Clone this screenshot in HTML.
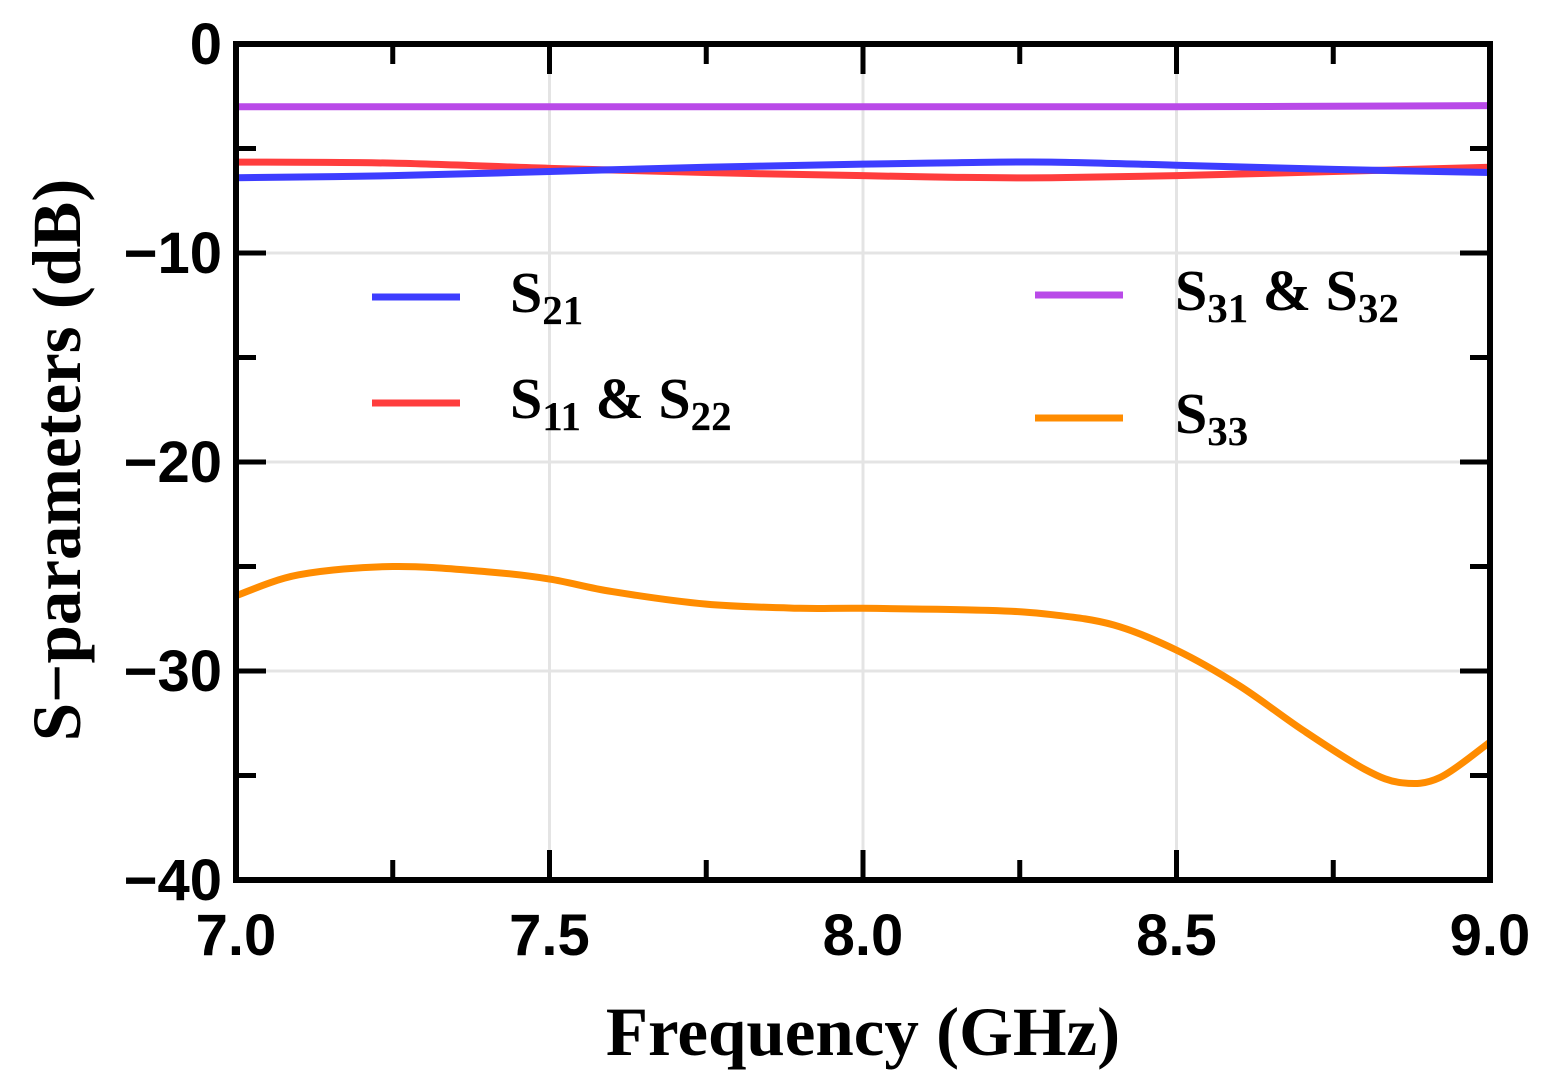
<!DOCTYPE html>
<html><head><meta charset="utf-8">
<style>
html,body{margin:0;padding:0;background:#fff;}
svg{display:block;}
.tick{font-family:"Liberation Sans",sans-serif;font-weight:bold;font-size:58px;fill:#000;}
.title{font-family:"Liberation Serif",serif;font-weight:bold;font-size:69px;fill:#000;}
.leg{font-family:"Liberation Serif",serif;font-weight:bold;font-size:58px;fill:#000;}
</style></head>
<body>
<svg id="chart" width="1544" height="1090" viewBox="0 0 1544 1090">
<g id="grid"></g>
<g id="series"></g>
<g id="ticks"></g>
<rect x="236" y="44" width="1254" height="836" fill="none" stroke="#000" stroke-width="6"/>
<g id="labels"></g>
<text class="title" x="863" y="1055" text-anchor="middle">Frequency (GHz)</text>
<text class="title" transform="translate(80,460) rotate(-90)" text-anchor="middle">S−parameters (dB)</text>
<g>
 <g><line x1="372" y1="297" x2="460" y2="297" stroke="#3d3dff" stroke-width="7"/><text class="leg" x="510" y="312">S<tspan font-size="41" dy="12">21</tspan></text></g>
 <g><line x1="372" y1="403" x2="460" y2="403" stroke="#ff3d3d" stroke-width="7"/><text class="leg" x="510" y="418">S<tspan font-size="41" dy="12">11</tspan><tspan dy="-12"> &amp; S</tspan><tspan font-size="41" dy="12">22</tspan></text></g>
 <g><line x1="1035" y1="295" x2="1123" y2="295" stroke="#b94ae8" stroke-width="7"/><text class="leg" x="1175" y="310">S<tspan font-size="41" dy="12">31</tspan><tspan dy="-12"> &amp; S</tspan><tspan font-size="41" dy="12">32</tspan></text></g>
 <g><line x1="1035" y1="418" x2="1123" y2="418" stroke="#ff8c00" stroke-width="7"/><text class="leg" x="1175" y="433">S<tspan font-size="41" dy="12">33</tspan></text></g>
</g>
</svg>
<script>
const xTicks=[7.0,7.5,8.0,8.5,9.0];
const xTickLabels=["7.0","7.5","8.0","8.5","9.0"];
const yTicks=[0,-10,-20,-30,-40];
const yTickLabels=["0","−10","−20","−30","−40"];
const s21X=[7.0,7.25,7.5,7.75,8.0,8.15,8.3,8.5,8.75,9.0];
const s21Y=[-6.4,-6.3,-6.1,-5.9,-5.75,-5.68,-5.65,-5.8,-6.0,-6.15];
const s11X=[7.0,7.25,7.5,7.75,8.0,8.15,8.3,8.5,8.75,9.0];
const s11Y=[-5.65,-5.7,-5.95,-6.15,-6.3,-6.38,-6.4,-6.3,-6.1,-5.9];
const s31X=[7.0,7.5,8.0,8.5,9.0];
const s31Y=[-3.0,-3.0,-3.0,-3.0,-2.95];
const s33X=[7.0,7.1,7.25,7.4,7.5,7.6,7.75,7.9,8.0,8.2,8.3,8.4,8.5,8.6,8.7,8.8,8.86,8.92,9.0];
const s33Y=[-26.4,-25.4,-25.0,-25.25,-25.6,-26.2,-26.8,-27.0,-27.0,-27.1,-27.3,-27.8,-29.0,-30.7,-32.8,-34.7,-35.35,-35.1,-33.4];
const X0=236,X1=1490,Y0=44,Y1=880;
const sx=v=>X0+(v-7)/2*(X1-X0);
const sy=v=>Y0+(0-v)/40*(Y1-Y0);
const NS="http://www.w3.org/2000/svg";
function mk(tag,parent,attrs){const e=document.createElementNS(NS,tag);for(const k in attrs)e.setAttribute(k,attrs[k]);parent.appendChild(e);return e;}
const grid=document.getElementById('grid'),ticks=document.getElementById('ticks'),labels=document.getElementById('labels'),series=document.getElementById('series');
xTicks.forEach((v,i)=>{
 const g=mk('line',grid,{x1:sx(v),x2:sx(v),y1:Y0,y2:Y1,stroke:'#e4e4e4','stroke-width':3});
 
 
 const t=mk('text',labels,{x:sx(v),y:955,'text-anchor':'middle',class:'tick'});t.textContent=xTickLabels[i];
 
 
});
yTicks.forEach((v,i)=>{
 const g=mk('line',grid,{x1:X0,x2:X1,y1:sy(v),y2:sy(v),stroke:'#e4e4e4','stroke-width':3});
 
 
 const t=mk('text',labels,{x:222,y:sy(v)+20,'text-anchor':'end',class:'tick'});t.textContent=yTickLabels[i];
 
 
});
for(let v=7;v<=9.001;v+=0.25){const L=(Math.abs((v*2)%1)<1e-6)?30:20;
 mk('line',ticks,{x1:sx(v),x2:sx(v),y1:Y1,y2:Y1-L,stroke:'#000','stroke-width':5});
 mk('line',ticks,{x1:sx(v),x2:sx(v),y1:Y0,y2:Y0+L,stroke:'#000','stroke-width':5});}
for(let v=0;v>=-40;v-=5){const L=(v%10===0)?30:20;
 mk('line',ticks,{x1:X0,x2:X0+L,y1:sy(v),y2:sy(v),stroke:'#000','stroke-width':5});
 mk('line',ticks,{x1:X1,x2:X1-L,y1:sy(v),y2:sy(v),stroke:'#000','stroke-width':5});}
function smooth(xs,ys){const p=xs.map((x,i)=>[sx(x),sy(ys[i])]);let d='M'+p[0][0]+','+p[0][1];
 for(let i=0;i<p.length-1;i++){const a=p[i-1]||p[i],b=p[i],c=p[i+1],e=p[i+2]||c;
  d+=' C'+(b[0]+(c[0]-a[0])/6)+','+(b[1]+(c[1]-a[1])/6)+' '+(c[0]-(e[0]-b[0])/6)+','+(c[1]-(e[1]-b[1])/6)+' '+c[0]+','+c[1];}
 return d;}
[[s31X,s31Y,'#b94ae8','line-s31-s32'],[s11X,s11Y,'#ff3d3d','line-s11-s22'],[s21X,s21Y,'#3d3dff','line-s21'],[s33X,s33Y,'#ff8c00','line-s33']].forEach(s=>{
 const p=mk('path',series,{d:smooth(s[0],s[1]),fill:'none',stroke:s[2],'stroke-width':7,'stroke-linejoin':'round'});
 
 
});
</script>
</body></html>
